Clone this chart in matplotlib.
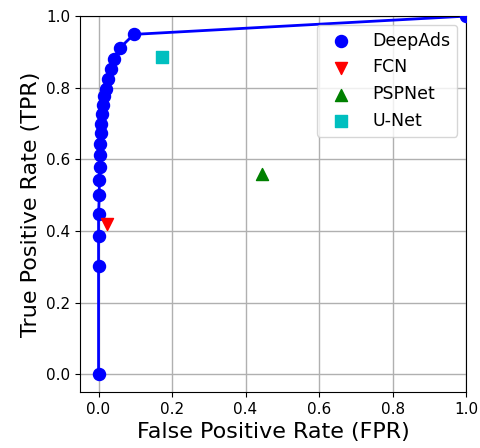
import matplotlib
matplotlib.use('Agg')
import matplotlib.pyplot as plt

# DeepAds ROC points
deepads_fpr = [0.0, 0.0, 0.0, 0.0, 0.002, 0.002, 0.003, 0.004, 0.005, 0.006, 0.008,
               0.010, 0.013, 0.016, 0.019, 0.026, 0.033, 0.042, 0.058, 0.096, 1.0]
deepads_tpr = [0.0, 0.303, 0.387, 0.447, 0.499, 0.541, 0.578, 0.613, 0.643, 0.673, 0.699,
               0.727, 0.753, 0.776, 0.796, 0.825, 0.852, 0.879, 0.911, 0.949, 1.0]

fcn = (0.022, 0.42)
pspnet = (0.446, 0.56)
unet = (0.174, 0.885)

fig = plt.figure(figsize=(4.8, 4.48), dpi=100)
ax = fig.add_axes([0.167, 0.125, 0.804, 0.839])

ax.plot(deepads_fpr, deepads_tpr, '-', color='b', linewidth=2)
ax.scatter(deepads_fpr, deepads_tpr, color='b', s=75, marker='o', label='DeepAds', zorder=3)
ax.scatter([fcn[0]], [fcn[1]], color='r', s=75, marker='v', label='FCN', zorder=3)
ax.scatter([pspnet[0]], [pspnet[1]], color='g', s=75, marker='^', label='PSPNet', zorder=3)
ax.scatter([unet[0]], [unet[1]], color='c', s=75, marker='s', label='U-Net', zorder=3)

ax.set_xlim(-0.05, 1.0)
ax.set_ylim(-0.05, 1.0)
ax.set_xticks([0.0, 0.2, 0.4, 0.6, 0.8, 1.0])
ax.set_yticks([0.0, 0.2, 0.4, 0.6, 0.8, 1.0])
ax.tick_params(labelsize=11)
ax.grid(True, color='#b0b0b0', linewidth=1)
ax.set_axisbelow(True)
ax.set_xlabel('False Positive Rate (FPR)', fontsize=16)
ax.set_ylabel('True Positive Rate (TPR)', fontsize=16)
ax.legend(loc='upper right', fontsize=12.5, scatterpoints=1)

fig.savefig('out.png', dpi=100)
